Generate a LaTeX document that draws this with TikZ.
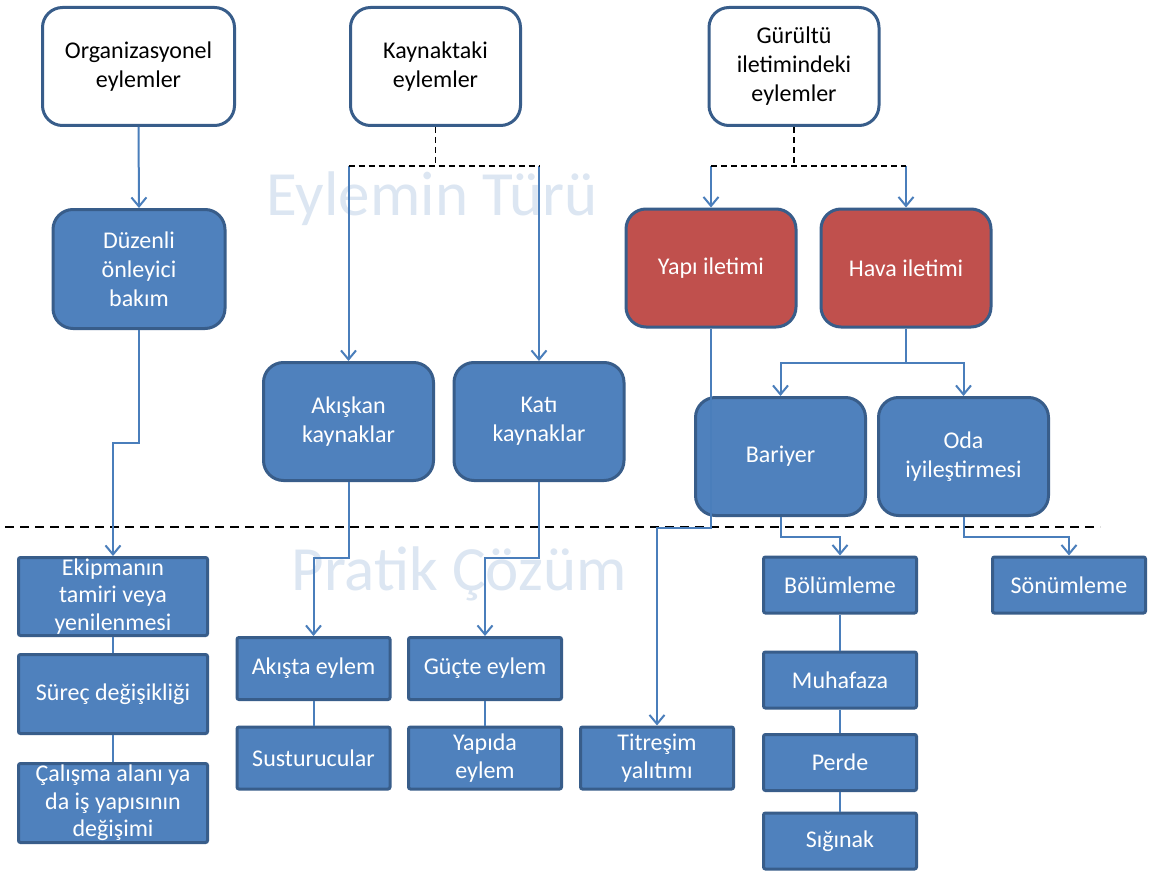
\documentclass[tikz,border=0pt]{standalone}
\usepackage{fontspec}
\setmainfont{Carlito}
\usetikzlibrary{arrows.meta}
\usetikzlibrary{positioning}
\definecolor{boxblue}{HTML}{4F81BD}
\definecolor{boxred}{HTML}{C0504D}
\definecolor{edgeblue}{HTML}{385D8A}
\definecolor{lineblue}{HTML}{4A7EBB}
\definecolor{markblue}{HTML}{DCE6F2}

\begin{document}
\begin{tikzpicture}[
    x=1pt, y=-1pt,
    font=\fontsize{24}{29}\selectfont
]
\tikzset{
    headnode/.style = {rectangle, rounded corners=20pt, draw=edgeblue, line width=3pt, fill=white, align=center, inner sep=2pt, minimum width=170pt, minimum height=118pt},
    typenode/.style = {rectangle, rounded corners=20pt, draw=edgeblue, line width=3pt, fill=boxblue, text=white, align=center, inner sep=2pt, minimum width=170pt, minimum height=118pt},
    solnode/.style = {rectangle, rounded corners=2pt, draw=edgeblue, line width=3pt, fill=boxblue, text=white, align=center, inner sep=0pt, minimum width=153pt, minimum height=62pt, font=\fontsize{24}{27.5}\selectfont},
    marktext/.style = {text=markblue, font=\fontsize{63}{70}\selectfont, inner sep=0pt},
    link/.style = {draw=lineblue, line width=2pt},
    linkarr/.style = {link, -{Straight Barb[length=9pt,width=15pt]}},
    splitline/.style = {draw=black, line width=1.6pt, dash pattern=on 6pt off 4pt}
}
\fill[white] (0,0) rectangle (1149,872);
\useasboundingbox (0,0) rectangle (1149,872);

\node[marktext, anchor=base] at (432,215) (tur) {Eylemin Türü};
\node[marktext, anchor=base] at (459,590) (coz) {Pratik Çözüm};

\node[headnode, minimum width=192pt] at (138.5,66.5) (org) {Organizasyonel\\eylemler};
\node[headnode] at (435.5,66.5) (kay) {Kaynaktaki\\eylemler};
\node[headnode] at (794,66.5) (gur) {Gürültü\\iletimindeki\\eylemler};

\node[typenode, minimum width=172pt, minimum height=119pt] at (139,269) (dzn) {Düzenli\\önleyici\\bakım};
\node[typenode] at (348.5,421.5) (aks) {Akışkan\\kaynaklar};
\node[typenode] at (539,421.5) (kat) {Katı\\kaynaklar};
\node[typenode, fill=boxred] at (711,268) (yap) {Yapı iletimi};
\node[typenode, fill=boxred] at (906,268) (hav) {Hava iletimi};
\node[typenode] at (780.5,456.5) (bar) {Bariyer};
\node[typenode] at (963.5,456.5) (oda) {Oda\\iyileştirmesi};

\node[solnode, minimum width=189pt, minimum height=78pt] at (113,596.5) (ekp) {Ekipmanın\\tamiri veya\\yenilenmesi};
\node[solnode, minimum width=189pt, minimum height=79pt] at (113,694) (src) {Süreç değişikliği};
\node[solnode, minimum width=189pt, minimum height=79pt] at (113,803) (cal) {Çalışma alanı ya\\da iş yapısının\\değişimi};
\node[solnode] at (313.5,668.5) (akt) {Akışta eylem};
\node[solnode] at (313.5,758) (sus) {Susturucular};
\node[solnode] at (485,668.5) (guc) {Güçte eylem};
\node[solnode] at (485,758) (ypd) {Yapıda\\eylem};
\node[solnode] at (657,758) (tit) {Titreşim\\yalıtımı};
\node[solnode, minimum height=56pt] at (840,585) (bol) {Bölümleme};
\node[solnode, minimum height=56pt] at (840,680) (muh) {Muhafaza};
\node[solnode, minimum height=56pt] at (840,762.5) (per) {Perde};
\node[solnode, minimum height=56pt] at (840,841) (sig) {Sığınak};
\node[solnode, minimum height=56pt] at (1069,585) (son) {Sönümleme};

\draw[splitline, dash pattern=on 9pt off 6pt] (5,527) -- (1100,527);

\draw[linkarr] (org.south) -- (dzn.north);
\draw[linkarr] (dzn.south) -- ++(0,113) -| (ekp.north);

\draw[splitline] (kay.south) -- ++(0,39) coordinate (kaymid);
\draw[linkarr] (aks.north |- kaymid) -- (aks.north);
\draw[linkarr] (kat.north |- kaymid) -- (kat.north);
\draw[splitline] (aks.north |- kaymid) -- (kat.north |- kaymid);

\draw[splitline] (gur.south) -- ++(0,39) coordinate (gurmid);
\draw[linkarr] (yap.north |- gurmid) -- (yap.north);
\draw[linkarr] (hav.north |- gurmid) -- (hav.north);
\draw[splitline] (yap.north |- gurmid) -- (hav.north |- gurmid);

\draw[linkarr] (aks.south) -- ++(0,76) -| (akt.north);
\draw[linkarr] (kat.south) -- ++(0,76) -| (guc.north);
\draw[linkarr] (yap.south) -- ++(0,199) -| (tit.north);
\draw[linkarr] (hav.south) -- ++(0,34) -| (bar.north);
\draw[linkarr] (hav.south) -- ++(0,34) -| (oda.north);
\draw[linkarr] (bar.south) -- ++(0,20) -| (bol.north);
\draw[linkarr] (oda.south) -- ++(0,20) -| (son.north);

\draw[link] (ekp) -- (src);
\draw[link] (src) -- (cal);
\draw[link] (akt) -- (sus);
\draw[link] (guc) -- (ypd);
\draw[link] (bol) -- (muh);
\draw[link] (muh) -- (per);
\draw[link] (per) -- (sig);
\end{tikzpicture}
\end{document}
